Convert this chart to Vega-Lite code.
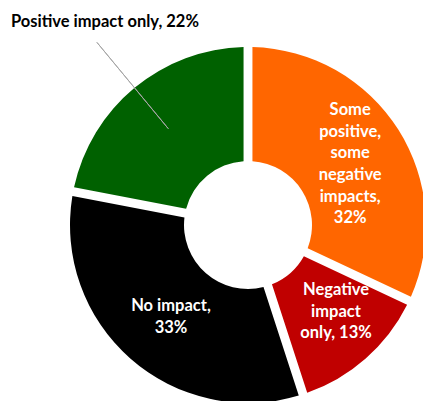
{
  "$schema": "https://vega.github.io/schema/vega-lite/v6.json",
  "autosize": {"type": "none"},
  "padding": {"left": 73, "top": 49, "right": 0, "bottom": 0},
  "width": 350,
  "height": 352,
  "background": "white",
  "view": {"stroke": null},
  "data": {
    "values": [
      {"cat": "Some positive, some negative impacts", "value": 32, "idx": 1, "label": "Some|positive,|some|negative|impacts,|32%"},
      {"cat": "Negative impact only", "value": 13, "idx": 2, "label": "Negative|impact|only, 13%"},
      {"cat": "No impact", "value": 33, "idx": 3, "label": "No impact,|33%"},
      {"cat": "Positive impact only", "value": 22, "idx": 4, "label": "Positive impact only, 22%"}
    ]
  },
  "encoding": {
    "theta": {"field": "value", "type": "quantitative", "stack": true},
    "order": {"field": "idx", "type": "quantitative"}
  },
  "layer": [
    {
      "mark": {"type": "arc", "radius": 178, "radius2": 64, "padAngle": 0.047},
      "encoding": {
        "color": {
          "field": "cat",
          "type": "nominal",
          "legend": null,
          "scale": {
            "domain": ["Some positive, some negative impacts", "Negative impact only", "No impact", "Positive impact only"],
            "range": ["#FF6600", "#C00000", "#000000", "#006100"]
          }
        }
      }
    },
    {
      "mark": {"type": "arc", "radius": 237, "radius2": 125, "padAngle": 1.5, "fill": null, "stroke": "#A6A6A6", "strokeWidth": 1},
      "encoding": {
        "strokeOpacity": {"condition": {"test": "datum.idx === 4", "value": 1}, "value": 0}
      }
    },
    {
      "mark": {"type": "text", "radius": 121, "dy": -50, "font": "Lato", "fontSize": 16.5, "fontWeight": "bold", "fill": "white", "lineBreak": "|", "lineHeight": 21.6, "align": "center", "baseline": "middle"},
      "encoding": {
        "text": {"condition": {"test": "datum.idx !== 1", "value": ""}, "field": "label", "type": "nominal"}
      }
    },
    {
      "mark": {"type": "text", "radius": 121, "dx": 8, "dy": -25.6, "font": "Lato", "fontSize": 16.5, "fontWeight": "bold", "fill": "white", "lineBreak": "|", "lineHeight": 21.6, "align": "center", "baseline": "middle"},
      "encoding": {
        "text": {"condition": {"test": "datum.idx !== 2", "value": ""}, "field": "label", "type": "nominal"}
      }
    },
    {
      "mark": {"type": "text", "radius": 121, "dx": 3, "dy": -9.8, "font": "Lato", "fontSize": 16.5, "fontWeight": "bold", "fill": "white", "lineBreak": "|", "lineHeight": 21.6, "align": "center", "baseline": "middle"},
      "encoding": {
        "text": {"condition": {"test": "datum.idx !== 3", "value": ""}, "field": "label", "type": "nominal"}
      }
    },
    {
      "mark": {"type": "text", "radius": 248, "dx": 15, "dy": -12, "font": "Lato", "fontSize": 16.5, "fontWeight": "bold", "fill": "black", "align": "center", "baseline": "middle"},
      "encoding": {
        "text": {"condition": {"test": "datum.idx !== 4", "value": ""}, "field": "label", "type": "nominal"}
      }
    }
  ]
}
